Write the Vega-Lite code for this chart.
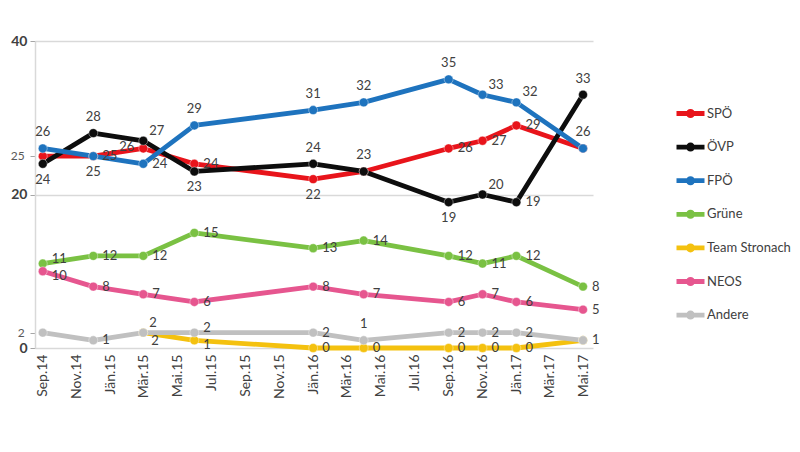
{
  "$schema": "https://vega.github.io/schema/vega-lite/v6.json",
  "autosize": "none",
  "width": 558,
  "height": 307,
  "padding": {"left": 35, "top": 41, "right": 207, "bottom": 104},
  "background": "white",
  "config": {"view": {"stroke": null}, "font": "Lato"},
  "data": {
    "values": [
      {"series": "SPÖ", "date": "2014/09/01", "value": 25},
      {"series": "SPÖ", "date": "2014/12/01", "value": 25},
      {"series": "SPÖ", "date": "2015/03/01", "value": 26},
      {"series": "SPÖ", "date": "2015/06/01", "value": 24},
      {"series": "SPÖ", "date": "2016/01/01", "value": 22},
      {"series": "SPÖ", "date": "2016/04/01", "value": 23},
      {"series": "SPÖ", "date": "2016/09/01", "value": 26},
      {"series": "SPÖ", "date": "2016/11/01", "value": 27},
      {"series": "SPÖ", "date": "2017/01/01", "value": 29},
      {"series": "SPÖ", "date": "2017/05/01", "value": 26},
      {"series": "ÖVP", "date": "2014/09/01", "value": 24},
      {"series": "ÖVP", "date": "2014/12/01", "value": 28},
      {"series": "ÖVP", "date": "2015/03/01", "value": 27},
      {"series": "ÖVP", "date": "2015/06/01", "value": 23},
      {"series": "ÖVP", "date": "2016/01/01", "value": 24},
      {"series": "ÖVP", "date": "2016/04/01", "value": 23},
      {"series": "ÖVP", "date": "2016/09/01", "value": 19},
      {"series": "ÖVP", "date": "2016/11/01", "value": 20},
      {"series": "ÖVP", "date": "2017/01/01", "value": 19},
      {"series": "ÖVP", "date": "2017/05/01", "value": 33},
      {"series": "FPÖ", "date": "2014/09/01", "value": 26},
      {"series": "FPÖ", "date": "2014/12/01", "value": 25},
      {"series": "FPÖ", "date": "2015/03/01", "value": 24},
      {"series": "FPÖ", "date": "2015/06/01", "value": 29},
      {"series": "FPÖ", "date": "2016/01/01", "value": 31},
      {"series": "FPÖ", "date": "2016/04/01", "value": 32},
      {"series": "FPÖ", "date": "2016/09/01", "value": 35},
      {"series": "FPÖ", "date": "2016/11/01", "value": 33},
      {"series": "FPÖ", "date": "2017/01/01", "value": 32},
      {"series": "FPÖ", "date": "2017/05/01", "value": 26},
      {"series": "Grüne", "date": "2014/09/01", "value": 11},
      {"series": "Grüne", "date": "2014/12/01", "value": 12},
      {"series": "Grüne", "date": "2015/03/01", "value": 12},
      {"series": "Grüne", "date": "2015/06/01", "value": 15},
      {"series": "Grüne", "date": "2016/01/01", "value": 13},
      {"series": "Grüne", "date": "2016/04/01", "value": 14},
      {"series": "Grüne", "date": "2016/09/01", "value": 12},
      {"series": "Grüne", "date": "2016/11/01", "value": 11},
      {"series": "Grüne", "date": "2017/01/01", "value": 12},
      {"series": "Grüne", "date": "2017/05/01", "value": 8},
      {"series": "Team Stronach", "date": "2015/03/01", "value": 2},
      {"series": "Team Stronach", "date": "2015/06/01", "value": 1},
      {"series": "Team Stronach", "date": "2016/01/01", "value": 0},
      {"series": "Team Stronach", "date": "2016/04/01", "value": 0},
      {"series": "Team Stronach", "date": "2016/09/01", "value": 0},
      {"series": "Team Stronach", "date": "2016/11/01", "value": 0},
      {"series": "Team Stronach", "date": "2017/01/01", "value": 0},
      {"series": "Team Stronach", "date": "2017/05/01", "value": 1},
      {"series": "NEOS", "date": "2014/09/01", "value": 10},
      {"series": "NEOS", "date": "2014/12/01", "value": 8},
      {"series": "NEOS", "date": "2015/03/01", "value": 7},
      {"series": "NEOS", "date": "2015/06/01", "value": 6},
      {"series": "NEOS", "date": "2016/01/01", "value": 8},
      {"series": "NEOS", "date": "2016/04/01", "value": 7},
      {"series": "NEOS", "date": "2016/09/01", "value": 6},
      {"series": "NEOS", "date": "2016/11/01", "value": 7},
      {"series": "NEOS", "date": "2017/01/01", "value": 6},
      {"series": "NEOS", "date": "2017/05/01", "value": 5},
      {"series": "Andere", "date": "2014/09/01", "value": 2},
      {"series": "Andere", "date": "2014/12/01", "value": 1},
      {"series": "Andere", "date": "2015/03/01", "value": 2},
      {"series": "Andere", "date": "2015/06/01", "value": 2},
      {"series": "Andere", "date": "2016/01/01", "value": 2},
      {"series": "Andere", "date": "2016/04/01", "value": 1},
      {"series": "Andere", "date": "2016/09/01", "value": 2},
      {"series": "Andere", "date": "2016/11/01", "value": 2},
      {"series": "Andere", "date": "2017/01/01", "value": 2},
      {"series": "Andere", "date": "2017/05/01", "value": 1}
    ]
  },
  "encoding": {
    "x": {
      "field": "date",
      "type": "temporal",
      "scale": {"domain": [{"year": 2014, "month": 8, "date": 18}, {"year": 2017, "month": 5, "date": 19}]},
      "axis": {
        "title": null,
        "tickCount": {"interval": "month", "step": 2},
        "labelExpr": "['Jän','Feb','Mär','Apr','Mai','Jun','Jul','Aug','Sep','Okt','Nov','Dez'][month(datum.value)] + '.' + timeFormat(datum.value, '%y')",
        "labelAngle": -90,
        "labelFontSize": 14,
        "labelColor": "#404040",
        "labelPadding": 6,
        "labelOverlap": false,
        "labelFlush": false,
        "ticks": false,
        "grid": false,
        "domainColor": "#d9d9d9",
        "domainWidth": 1.5
      }
    },
    "y": {
      "field": "value",
      "type": "quantitative",
      "scale": {"domain": [0, 40]},
      "axis": {
        "title": null,
        "values": [0, 2, 20, 25, 40],
        "labelExpr": "datum.value == 2 || datum.value == 25 ? '' : datum.label",
        "grid": true,
        "gridColor": "#d9d9d9",
        "gridWidth": 1.5,
        "gridOpacity": {"condition": {"test": "datum.value == 0 || datum.value == 2 || datum.value == 25", "value": 0}, "value": 1},
        "labelFontSize": 14,
        "labelFontWeight": "bold",
        "labelColor": "#404040",
        "labelPadding": 3,
        "tickColor": "#a6a6a6",
        "tickSize": 5,
        "domainColor": "#d9d9d9",
        "domainWidth": 1.5
      }
    },
    "color": {
      "field": "series",
      "type": "nominal",
      "scale": {
        "domain": ["SPÖ", "ÖVP", "FPÖ", "Grüne", "Team Stronach", "NEOS", "Andere"],
        "range": ["#e8141b", "#0d0d0d", "#1e73be", "#7ac143", "#f4c10f", "#e6568f", "#c0c0c0"]
      },
      "legend": {
        "title": null,
        "orient": "none",
        "legendX": 639,
        "legendY": 56,
        "padding": 0,
        "symbolType": "M-1,0H1M-0.15,0A0.15,0.15,0,1,1,0.15,0A0.15,0.15,0,1,1,-0.15,0Z",
        "symbolSize": 784,
        "symbolStrokeWidth": 4.5,
        "labelFontSize": 13,
        "labelColor": "#404040",
        "labelOffset": 0,
        "rowPadding": 4.6,
        "encode": {
          "symbols": {
            "update": {
              "fill": {"scale": "color", "field": "value"},
              "stroke": {"scale": "color", "field": "value"},
              "strokeWidth": {"value": 4.8},
              "opacity": {"value": 1}
            }
          }
        }
      }
    }
  },
  "layer": [
    {"mark": {"type": "line", "strokeWidth": 4.8, "strokeCap": "round", "strokeJoin": "round"}},
    {"mark": {"type": "point", "shape": "circle", "filled": true, "size": 80, "opacity": 1, "stroke": "white", "strokeWidth": 0.8, "strokeOpacity": 0.5}},
    {
      "transform": [{"filter": "indexof(['FPÖ|1409','FPÖ|1506','FPÖ|1601','FPÖ|1604','FPÖ|1609','FPÖ|1705','ÖVP|1412','ÖVP|1601','ÖVP|1604','ÖVP|1705','Andere|1604'], datum.series + '|' + timeFormat(toDate(datum.date), '%y%m')) >= 0"}],
      "mark": {"type": "text", "fontSize": 13, "align": "center", "baseline": "middle", "dy": -16},
      "encoding": {"text": {"field": "value", "type": "quantitative"}, "color": {"value": "#404040"}}
    },
    {
      "transform": [{"filter": "indexof(['FPÖ|1412','ÖVP|1409','ÖVP|1506','ÖVP|1609','SPÖ|1601'], datum.series + '|' + timeFormat(toDate(datum.date), '%y%m')) >= 0"}],
      "mark": {"type": "text", "fontSize": 13, "align": "center", "baseline": "middle", "dy": 16},
      "encoding": {"text": {"field": "value", "type": "quantitative"}, "color": {"value": "#404040"}}
    },
    {
      "transform": [{"filter": "indexof(['FPÖ|1611','FPÖ|1701','ÖVP|1503','ÖVP|1611','Team Stronach|1503'], datum.series + '|' + timeFormat(toDate(datum.date), '%y%m')) >= 0"}],
      "mark": {"type": "text", "fontSize": 13, "align": "left", "baseline": "middle", "dx": 6, "dy": -10},
      "encoding": {"text": {"field": "value", "type": "quantitative"}, "color": {"value": "#404040"}}
    },
    {
      "transform": [{"filter": "indexof(['Andere|1503'], datum.series + '|' + timeFormat(toDate(datum.date), '%y%m')) >= 0"}],
      "mark": {"type": "text", "fontSize": 13, "align": "left", "baseline": "middle", "dx": 8, "dy": 8},
      "encoding": {"text": {"field": "value", "type": "quantitative"}, "color": {"value": "#404040"}}
    },
    {
      "transform": [{"filter": "indexof(['SPÖ|1503'], datum.series + '|' + timeFormat(toDate(datum.date), '%y%m')) >= 0"}],
      "mark": {"type": "text", "fontSize": 13, "align": "right", "baseline": "middle", "dx": -9, "dy": -1},
      "encoding": {"text": {"field": "value", "type": "quantitative"}, "color": {"value": "#404040"}}
    },
    {
      "transform": [{"filter": "indexof(['SPÖ|1409','Andere|1409'], datum.series + '|' + timeFormat(toDate(datum.date), '%y%m')) >= 0"}],
      "mark": {"type": "text", "fontSize": 12, "align": "right", "baseline": "middle", "dx": -18},
      "encoding": {"text": {"field": "value", "type": "quantitative"}, "color": {"value": "#595959"}}
    },
    {
      "transform": [{"filter": "indexof(['Grüne|1409','Andere|1506'], datum.series + '|' + timeFormat(toDate(datum.date), '%y%m')) >= 0"}],
      "mark": {"type": "text", "fontSize": 13, "align": "left", "baseline": "middle", "dx": 9, "dy": -5},
      "encoding": {"text": {"field": "value", "type": "quantitative"}, "color": {"value": "#404040"}}
    },
    {
      "transform": [{"filter": "indexof(['NEOS|1409','Team Stronach|1506'], datum.series + '|' + timeFormat(toDate(datum.date), '%y%m')) >= 0"}],
      "mark": {"type": "text", "fontSize": 13, "align": "left", "baseline": "middle", "dx": 9, "dy": 5},
      "encoding": {"text": {"field": "value", "type": "quantitative"}, "color": {"value": "#404040"}}
    },
    {
      "transform": [{"filter": "indexof(['FPÖ|1409','FPÖ|1506','FPÖ|1601','FPÖ|1604','FPÖ|1609','FPÖ|1705','ÖVP|1412','ÖVP|1601','ÖVP|1604','ÖVP|1705','Andere|1604','FPÖ|1412','ÖVP|1409','ÖVP|1506','ÖVP|1609','SPÖ|1601','FPÖ|1611','FPÖ|1701','ÖVP|1503','ÖVP|1611','Team Stronach|1503','Andere|1503','SPÖ|1503','SPÖ|1409','Andere|1409','SPÖ|1604','SPÖ|1705','Team Stronach|1705','Grüne|1409','Andere|1506','NEOS|1409','Team Stronach|1506'], datum.series + '|' + timeFormat(toDate(datum.date), '%y%m')) < 0"}],
      "mark": {"type": "text", "fontSize": 13, "align": "left", "baseline": "middle", "dx": 9},
      "encoding": {"text": {"field": "value", "type": "quantitative"}, "color": {"value": "#404040"}}
    }
  ]
}
